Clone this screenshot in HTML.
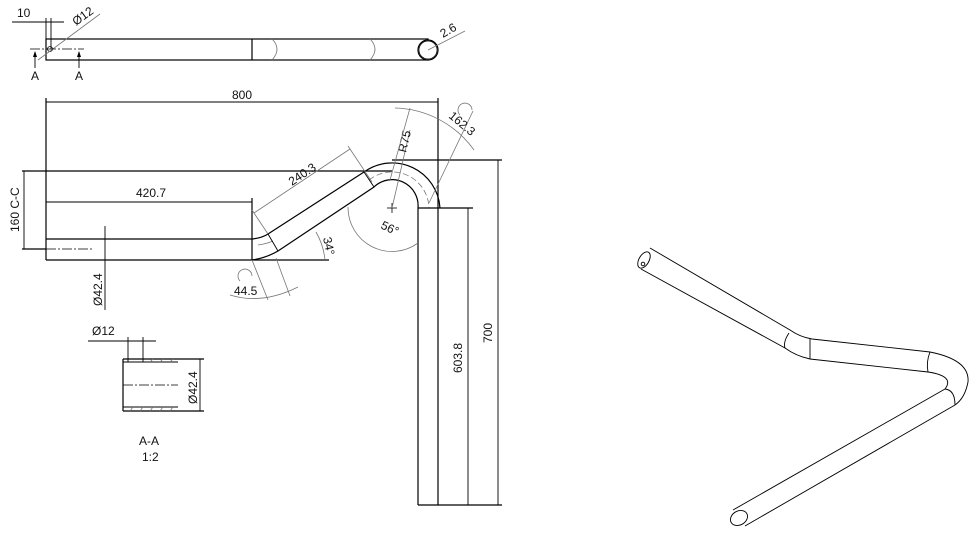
<!DOCTYPE html>
<html><head><meta charset="utf-8"><style>
html,body{margin:0;padding:0;background:#fff;}
svg{display:block;font-family:"Liberation Sans",sans-serif;font-size:12px;}
.k{stroke:#000;stroke-width:1.2;fill:none}
.g{stroke:#777;stroke-width:0.8;fill:none}
.c{stroke:#000;stroke-width:0.8;fill:none;stroke-dasharray:10 2 2 2}
text{fill:#111}
</style></head><body>
<svg width="977" height="537" viewBox="0 0 977 537" xmlns="http://www.w3.org/2000/svg">
<!-- TOP VIEW -->
<rect x="46" y="39" width="382" height="21" class="k"/>
<line x1="252" y1="39" x2="252" y2="60" class="k"/>
<path d="M272 39 Q282 49 272 60" class="g"/>
<path d="M370 39 Q380 49 370 60" class="g"/>
<circle cx="428" cy="50" r="10" class="k" fill="#fff" style="fill:#fff"/>
<circle cx="428" cy="50" r="9" class="k" style="stroke-width:0.7"/>
<circle cx="50" cy="49" r="2.5" class="k" style="stroke-width:0.8"/>
<line x1="12" y1="22" x2="64" y2="22" class="k" style="stroke-width:0.9"/>
<line x1="46" y1="18" x2="46" y2="39" class="k" style="stroke-width:0.9"/>
<line x1="51" y1="18" x2="51" y2="49" class="k" style="stroke-width:0.9"/>
<text x="17" y="17">10</text>
<line x1="38" y1="60" x2="100" y2="14" class="g"/>
<text x="0" y="0" transform="translate(76,26) rotate(-36)">Ø12</text>
<line x1="30" y1="49" x2="84" y2="49" class="c"/>
<line x1="35" y1="52" x2="35" y2="68" class="k" style="stroke-width:0.9"/>
<path d="M35 51 l-2 6 h4z" fill="#000"/>
<line x1="79" y1="52" x2="79" y2="68" class="k" style="stroke-width:0.9"/>
<path d="M79 51 l-2 6 h4z" fill="#000"/>
<text x="31" y="80">A</text><text x="75" y="80">A</text>
<line x1="428" y1="50" x2="465" y2="31" class="g"/>
<text transform="translate(443,38) rotate(-30)">2.6</text>

<!-- MAIN VIEW -->
<line x1="46" y1="102" x2="438" y2="102" class="k" style="stroke-width:0.9"/>
<text x="232" y="99">800</text>
<line x1="46" y1="98" x2="46" y2="260" class="k"/>
<line x1="438" y1="98" x2="438" y2="208" class="k"/>
<line x1="22" y1="171" x2="392" y2="171" class="k"/>
<line x1="22" y1="249" x2="46" y2="249" class="k"/>
<line x1="46" y1="249" x2="92" y2="249" class="c"/>
<line x1="24" y1="171" x2="24" y2="249" class="k" style="stroke-width:0.9"/>
<text transform="translate(19,232) rotate(-90)">160  C-C</text>
<line x1="46" y1="202" x2="252" y2="202" class="k" style="stroke-width:0.9"/>
<text x="136" y="197">420.7</text>
<line x1="252" y1="198" x2="252" y2="260" class="k"/>
<line x1="46" y1="239" x2="252" y2="239" class="k"/>
<line x1="46" y1="260" x2="329" y2="260" class="k"/>
<line x1="105" y1="226" x2="105" y2="310" class="k" style="stroke-width:0.9"/>
<text transform="translate(102,306) rotate(-90)">Ø42.4</text>
<!-- slope tube -->
<path d="M252 239 Q262 238 268 234 L364 172 A48 48 0 0 1 440 208" class="k"/>
<path d="M252 260 Q266 258 278 251 L374 187 A26 26 0 0 1 418 208" class="k"/>
<path d="M258 245 Q266 244 273 241" class="g"/>
<path d="M369 180 A37 37 0 0 1 429 208" class="g" stroke-dasharray="6 3"/>
<line x1="268" y1="234" x2="278" y2="251" class="k" style="stroke-width:0.9"/>
<line x1="364" y1="172" x2="374" y2="187" class="k" style="stroke-width:0.9"/>
<line x1="418" y1="208" x2="418" y2="505" class="k"/>
<line x1="438" y1="208" x2="438" y2="505" class="k"/>
<line x1="418" y1="505" x2="502" y2="505" class="k"/>
<line x1="392" y1="160" x2="502" y2="160" class="k"/>
<line x1="418" y1="208" x2="473" y2="208" class="k"/>
<line x1="498" y1="160" x2="498" y2="505" class="k" style="stroke-width:0.9"/>
<line x1="468" y1="208" x2="468" y2="505" class="k" style="stroke-width:0.9"/>
<text transform="translate(492,343) rotate(-90)">700</text>
<text transform="translate(462,373) rotate(-90)">603.8</text>
<!-- centre -->
<line x1="387" y1="208" x2="397" y2="208" class="k" style="stroke-width:0.8"/>
<line x1="392" y1="203" x2="392" y2="213" class="k" style="stroke-width:0.8"/>
<!-- 240.3 -->
<line x1="254" y1="213" x2="350" y2="149" class="g"/>
<line x1="252" y1="210" x2="268" y2="234" class="g"/>
<line x1="348" y1="146" x2="372" y2="182" class="g"/>
<text transform="translate(292,186) rotate(-34)">240.3</text>
<!-- R75 -->
<line x1="392" y1="208" x2="410" y2="130" class="g"/>
<text transform="translate(406,153) rotate(-77)">R75</text>
<!-- 162.3 -->
<path d="M395 108 A100 100 0 0 1 474 150" class="g"/>
<line x1="429" y1="203" x2="473" y2="111" class="g"/>
<line x1="390" y1="180" x2="410" y2="108" class="g"/>
<text transform="translate(448,117) rotate(40)">162.3</text>
<path d="M460 115 A7 7 0 1 1 472 110" class="g"/>
<!-- 56 -->
<path d="M348 207 A44 44 0 0 0 418 243" class="g"/>
<text transform="translate(380,228) rotate(25)">56°</text>
<!-- 34 -->
<path d="M316 232 A70 70 0 0 1 325 260" class="g"/>
<text transform="translate(323,238) rotate(78)">34°</text>
<!-- 44.5 -->
<line x1="252" y1="260" x2="268" y2="300" class="g"/>
<line x1="276" y1="258" x2="290" y2="296" class="g"/>
<path d="M230 295 Q262 305 298 287" class="g"/>
<text x="234" y="295">44.5</text>
<path d="M240 281 A7 7 0 1 1 252 276" class="g"/>

<!-- SECTION A-A -->
<text x="92" y="335">Ø12</text>
<line x1="88" y1="341" x2="156" y2="341" class="k" style="stroke-width:0.9"/>
<line x1="128" y1="337" x2="128" y2="362" class="k" style="stroke-width:0.9"/>
<line x1="143" y1="337" x2="143" y2="362" class="k" style="stroke-width:0.9"/>
<line x1="123" y1="359" x2="204" y2="359" class="k"/>
<line x1="123" y1="411" x2="204" y2="411" class="k"/>
<line x1="123" y1="359" x2="123" y2="411" class="k"/>
<line x1="123" y1="362" x2="178" y2="362" class="k" style="stroke-width:0.9"/>
<line x1="123" y1="407" x2="178" y2="407" class="k" style="stroke-width:0.9"/>
<path d="M150 362 l3 -3 M160 362 l3 -3 M170 362 l3 -3 M130 411 l3 -4 M140 411 l3 -4 M150 411 l3 -4 M160 411 l3 -4 M170 411 l3 -4" class="g"/>
<line x1="123" y1="385" x2="178" y2="385" class="c"/>
<line x1="200" y1="359" x2="200" y2="411" class="k" style="stroke-width:0.9"/>
<text transform="translate(197,404) rotate(-90)">Ø42.4</text>
<text x="139" y="445">A-A</text>
<text x="142" y="461">1:2</text>

<!-- ISO VIEW -->
<g class="k" style="stroke-width:0.9">
<ellipse cx="644" cy="260" rx="5" ry="9" transform="rotate(30 644 260)"/>
<circle cx="643" cy="264" r="1.8"/>
<path d="M650 248 L790 330 Q800 337 812 339 L930 352 Q970 360 968 382 Q965 398 955 405"/>
<path d="M641 269 L785 348 Q796 356 810 359 L928 372 Q955 376 945 389"/>
<path d="M789 333 Q783 342 785 348"/>
<line x1="810" y1="339" x2="810" y2="359"/>
<path d="M930 352 Q926 362 928 372"/>
<path d="M945 389 Q955 390 955 405"/>
<line x1="945" y1="389" x2="733" y2="510"/>
<line x1="955" y1="405" x2="745" y2="526"/>
<ellipse cx="739" cy="518" rx="9" ry="7" transform="rotate(-30 739 518)"/>
</g>
</svg>
</body></html>
